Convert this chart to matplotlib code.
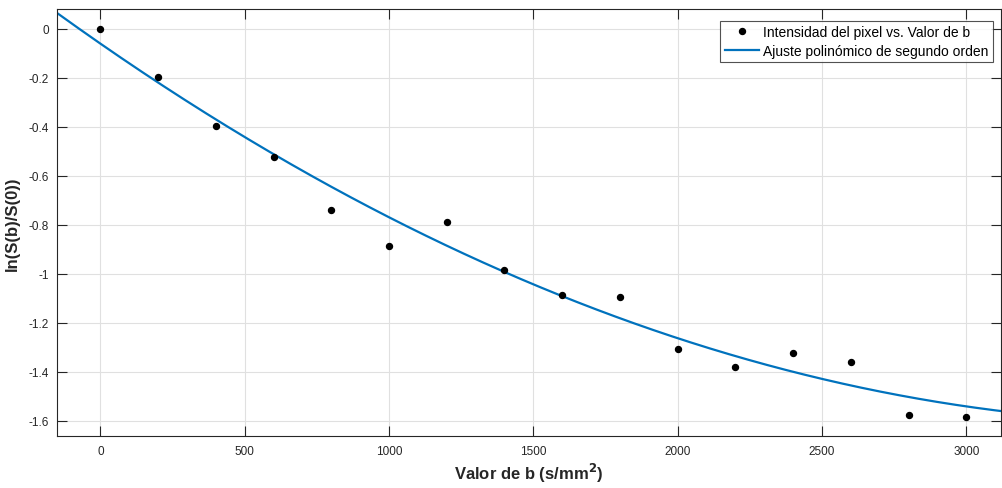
import numpy
import matplotlib

matplotlib.use("Agg")
import matplotlib.pyplot
from matplotlib.ticker import FuncFormatter

matplotlib.pyplot.rcParams.update({
    "font.family": ["Liberation Sans", "DejaVu Sans"],
    "axes.edgecolor": "#262626",
    "axes.linewidth": 0.8,
    "xtick.color": "#262626",
    "ytick.color": "#262626",
    "grid.color": "#e0e0e0",
    "grid.linewidth": 0.8,
})

# b values and measured log signal ratio
b_values = [0, 200, 400, 600, 800, 1000, 1200, 1400, 1600, 1800,
            2000, 2200, 2400, 2600, 2800, 3000]
log_ratio = [0.0, -0.197, -0.397, -0.523, -0.740, -0.888, -0.790, -0.985,
             -1.086, -1.095, -1.309, -1.380, -1.322, -1.360, -1.578, -1.586]

x_ticks = [0, 500, 1000, 1500, 2000, 2500, 3000]
y_ticks = [0, -0.2, -0.4, -0.6, -0.8, -1.0, -1.2, -1.4, -1.6]

x_lim = (-150, 3120)
y_lim = (-1.664, 0.080)

b = numpy.array(b_values, dtype=float)
y = numpy.array(log_ratio)

# second order fit
coeffs = numpy.polyfit(b, y, 2)
fit = numpy.poly1d(coeffs)
b_fit = numpy.linspace(x_lim[0], x_lim[1], 400)

fig = matplotlib.pyplot.figure(figsize=(10.02, 4.89), dpi=100)
ax = fig.add_axes([0.0569, 0.1057, 0.9421, 0.8739])

ax.plot(b, y, "o", color="black", markersize=4.3, linestyle="none",
        label="Intensidad del pixel vs. Valor de b", zorder=3)
ax.plot(b_fit, fit(b_fit), color="#0072BD", linewidth=1.6,
        label="Ajuste polinómico de segundo orden", zorder=2)

ax.set_xlim(*x_lim)
ax.set_ylim(*y_lim)
ax.set_xticks(x_ticks)
ax.set_yticks(y_ticks)
ax.yaxis.set_major_formatter(FuncFormatter(lambda v, p: f"{v:g}"))
ax.tick_params(direction="in", length=7, width=0.8, top=True, right=True,
               labelsize=8.5, pad=6)
ax.grid(True)
ax.set_axisbelow(True)

ax.set_xlabel("Valor de b (s/mm$^\\mathbf{2}$)", fontsize=12, fontweight="bold",
              color="#262626", labelpad=3)
ax.set_ylabel("ln(S(b)/S(0))", fontsize=12, fontweight="bold", color="#262626",
              labelpad=6)

leg = ax.legend(loc="upper right", bbox_to_anchor=(0.9915, 0.972),
                borderaxespad=0, fontsize=10, frameon=True, fancybox=False,
                borderpad=0.3, handlelength=2.45, handletextpad=0.35,
                labelspacing=0.35)
leg.get_frame().set_edgecolor("#262626")
leg.get_frame().set_linewidth(0.8)

fig.savefig("out.png", dpi=100)
